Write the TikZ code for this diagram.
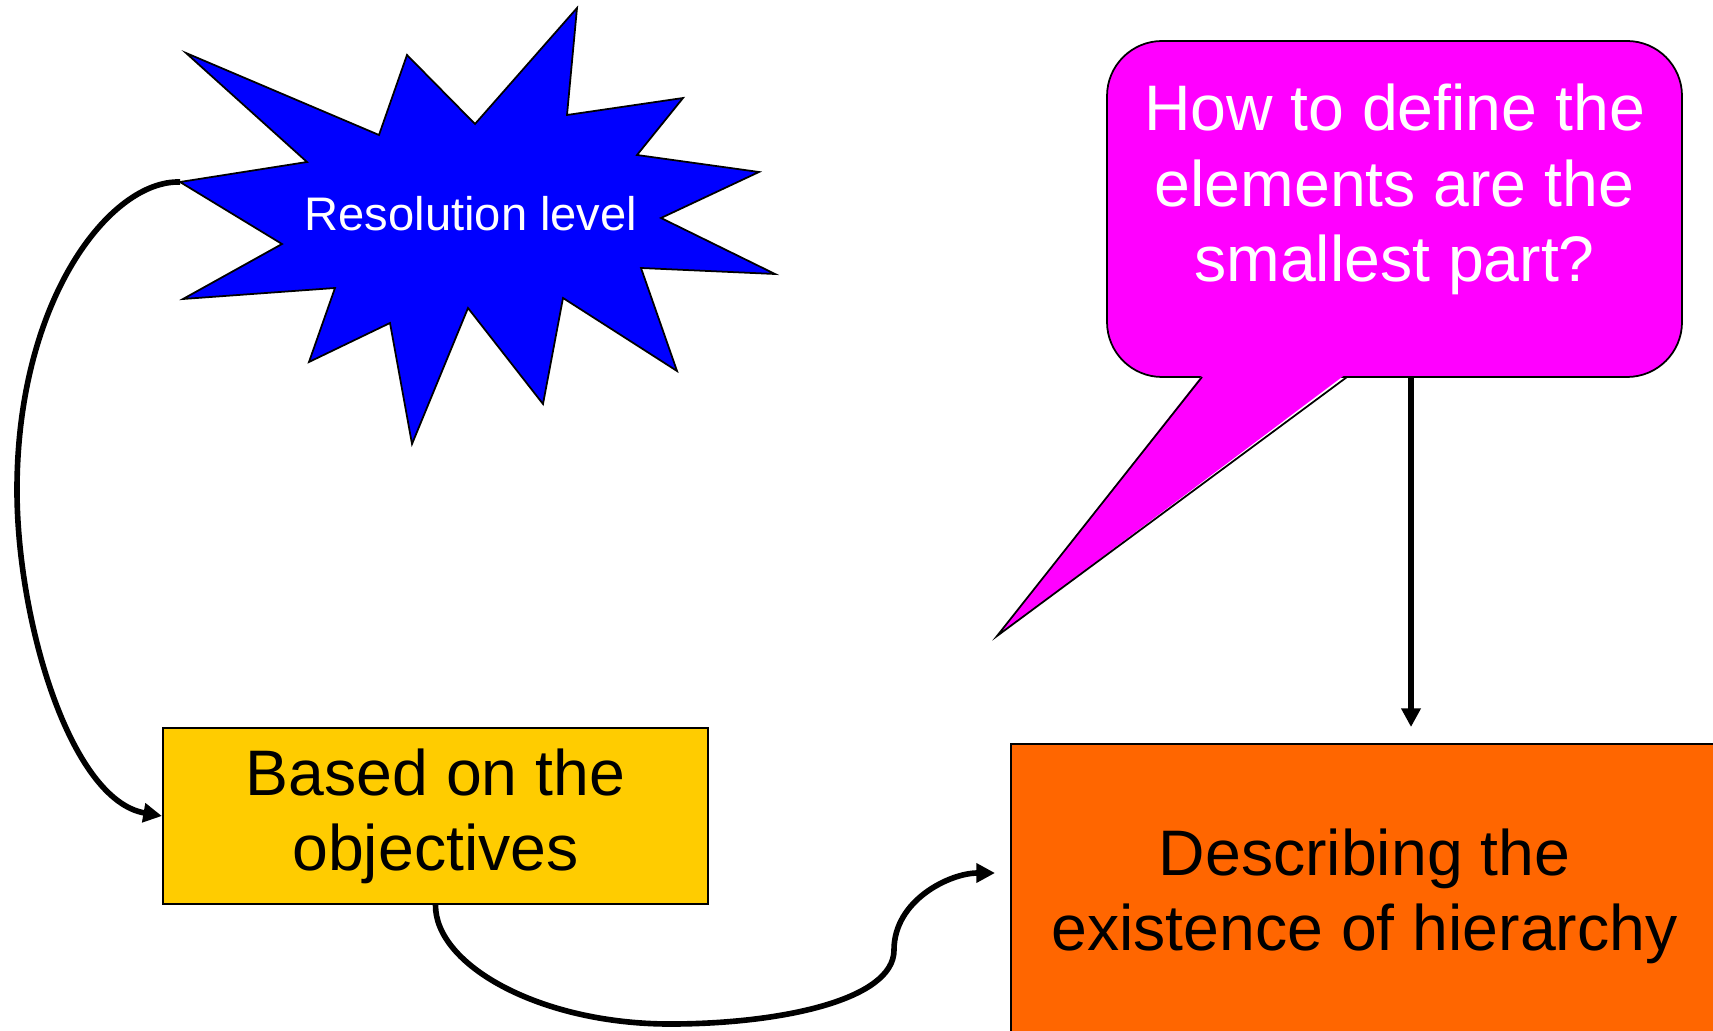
\documentclass[tikz,border=0pt]{standalone}
\usepackage{fontspec}
\setmainfont{Liberation Sans}
\usetikzlibrary{arrows.meta,positioning}
\definecolor{starBlue}{RGB}{0,0,255}
\definecolor{askPink}{RGB}{255,0,255}
\definecolor{basedYellow}{RGB}{255,204,0}
\definecolor{hierOrange}{RGB}{255,102,0}
\tikzset{>={Triangle[length=5.3pt,width=5.3pt]},
  link/.style={->,line width=1.6pt},
  shape line/.style={draw=black,line width=0.5pt},
  bigtext/.style={font=\fontsize{18.3}{21.4}\selectfont,align=center},
  box/.style={shape line,rectangle,bigtext,inner sep=0pt}}

\begin{document}
\begin{tikzpicture}[x=0.01cm,y=-0.01cm]
    \useasboundingbox (0,0) rectangle (1713,1031);

    \draw[shape line,fill=starBlue] (180,182) -- (307,162) -- (186,53) -- (379,135)
      -- (407,55) -- (475,124) -- (577,8) -- (567,115) -- (683,98) -- (637,155)
      -- (759,172) -- (661,218) -- (775,274) -- (641,268) -- (677,371) -- (563,298)
      -- (543,404) -- (468,308) -- (412,444) -- (390,323) -- (309,362) -- (335,288)
      -- (183,299) -- (282,244) -- cycle;
    \coordinate (starL) at (180,182);
    \node[white,font=\fontsize{13.4}{16}\selectfont] (star) at (471,214) {Resolution level};

    \draw[shape line,fill=askPink,rounded corners=0.55cm] (1107,41) rectangle (1682,377);
    \fill[askPink] (1203,374) -- (997,636) -- (1346,374) -- cycle;
    \draw[shape line] (1202,377) -- (997,636) -- (1347,377);
    \node[bigtext,white] (ask) at (1394.5,189.5) {How to define the\\elements are the\\smallest part?};
    \coordinate (askB) at (1411,377);

    \node[box,fill=basedYellow,minimum width=5.45cm,minimum height=1.76cm] (based) at (435.5,816) {Based on the\\objectives};
    \node[box,fill=hierOrange,minimum width=7.07cm,minimum height=3.04cm] (hier) at (1364.5,896) {Describing the\\existence of hierarchy};
    \coordinate (hierIn) at (995,873);

    \draw[link] (starL) .. controls (110,180) and (17,300) .. (17,490)
      .. controls (17,620) and (70,800) .. (based.west);
    \draw[link] (based.south) .. controls (435,965) and (540,1024) .. (670,1024)
      .. controls (780,1024) and (894,1000) .. (894,950)
      .. controls (894,900) and (950,873) .. (hierIn);
    \draw[link,shorten >=0.16cm] (askB) -- (askB |- hier.north);
\end{tikzpicture}
\end{document}
